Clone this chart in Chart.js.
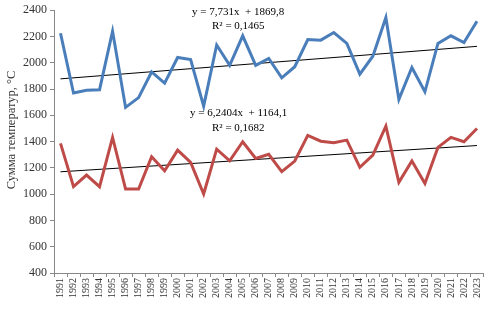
<!DOCTYPE html>
<html>
<head>
<meta charset="utf-8">
<script src="https://cdn.jsdelivr.net/npm/chart.js@4/dist/chart.umd.min.js"></script>
<style>
  body { margin: 0; background: #fff; }
  #wrap { width: 490px; height: 312px; position: relative; }
</style>
</head>
<body>
<div id="wrap"><canvas id="temp_chart"></canvas></div>
<script>
var years = ["1991","1992","1993","1994","1995","1996","1997","1998","1999","2000","2001",
             "2002","2003","2004","2005","2006","2007","2008","2009","2010","2011","2012",
             "2013","2014","2015","2016","2017","2018","2019","2020","2021","2022","2023"];

// upper series (blue)
var sumUpper = [2225, 1770, 1790, 1795, 2240, 1660, 1735, 1930, 1845, 2040, 2025,
                1670, 2135, 1980, 2205, 1980, 2033, 1885, 1970, 2177, 2172, 2230,
                2147, 1913, 2050, 2344, 1721, 1964, 1779, 2147, 2205, 2154, 2316];

// lower series (red)
var sumLower = [1386, 1057, 1145, 1057, 1432, 1039, 1039, 1285, 1178, 1335, 1242,
                1001, 1343, 1254, 1399, 1272, 1303, 1171, 1252, 1447, 1403, 1391,
                1411, 1204, 1297, 1518, 1090, 1252, 1082, 1356, 1432, 1399, 1500];

// trend line end points (first and last year)
var trendUpper = [1877.5, 2124.9];
var trendLower = [1170.3, 1370.0];

var eqUpper = ["y = 7,731x  + 1869,8", "R² = 0,1465"];
var eqLower = ["y = 6,2404x  + 1164,1", "R² = 0,1682"];

var yTitle = "Сумма температур, °С";

function trendPoints(ends) {
    return [{ x: years[0], y: ends[0] }, { x: years[years.length - 1], y: ends[1] }];
}

// draws the regression equations and the y axis title
var chartTexts = {
    id: "chartTexts",
    afterDatasetsDraw: function(chart) {
        var ctx = chart.ctx;
        ctx.save();
        ctx.fillStyle = "#000";
        ctx.font = "11px 'Liberation Serif', 'Times New Roman', serif";
        ctx.textBaseline = "middle";
        ctx.textAlign = "left";
        ctx.fillText(eqUpper[0], 192, 12);
        ctx.fillText(eqUpper[1], 212, 26);
        ctx.fillText(eqLower[0], 190, 113);
        ctx.fillText(eqLower[1], 212, 128);

        ctx.fillStyle = "#333";
        ctx.font = "12.5px 'Liberation Serif', 'Times New Roman', serif";
        ctx.textAlign = "center";
        ctx.translate(12, 130);
        ctx.rotate(-Math.PI / 2);
        ctx.fillText(yTitle, 0, 0);
        ctx.restore();
    }
};

var ctxTemp = document.getElementById("temp_chart").getContext("2d");

var temp_chart = new Chart(ctxTemp, {
    type: "line",
    data: {
        labels: years,
        datasets: [{
            data: sumUpper,
            borderColor: "#4a7ebb",
            borderWidth: 3,
            pointRadius: 0,
            tension: 0
        }, {
            data: sumLower,
            borderColor: "#be4b48",
            borderWidth: 3,
            pointRadius: 0,
            tension: 0
        }, {
            data: trendPoints(trendUpper),
            borderColor: "#000",
            borderWidth: 1,
            pointRadius: 0
        }, {
            data: trendPoints(trendLower),
            borderColor: "#000",
            borderWidth: 1,
            pointRadius: 0
        }]
    },
    options: {
        responsive: true,
        maintainAspectRatio: false,
        animation: false,
        layout: { padding: { top: 10, right: 2, left: 0, bottom: 0 } },
        plugins: {
            legend: { display: false },
            tooltip: { enabled: false }
        },
        scales: {
            x: {
                offset: true,
                grid: {
                    offset: true,
                    drawOnChartArea: false,
                    tickLength: 4,
                    color: "#888"
                },
                border: { color: "#888" },
                ticks: {
                    minRotation: 90,
                    maxRotation: 90,
                    autoSkip: false,
                    color: "#333",
                    padding: 1,
                    font: { family: "'Liberation Serif', serif", size: 10 }
                },
                afterFit: function(scale) { scale.height = 39; }
            },
            y: {
                min: 400,
                max: 2400,
                ticks: {
                    stepSize: 200,
                    color: "#333",
                    padding: 3,
                    font: { family: "'Liberation Serif', serif", size: 12 },
                    callback: function(value) { return String(value); }
                },
                grid: {
                    drawOnChartArea: false,
                    tickLength: 4,
                    color: "#888"
                },
                border: { color: "#888" },
                afterFit: function(scale) { scale.width = 54; }
            }
        }
    },
    plugins: [chartTexts]
});
</script>
</body>
</html>
